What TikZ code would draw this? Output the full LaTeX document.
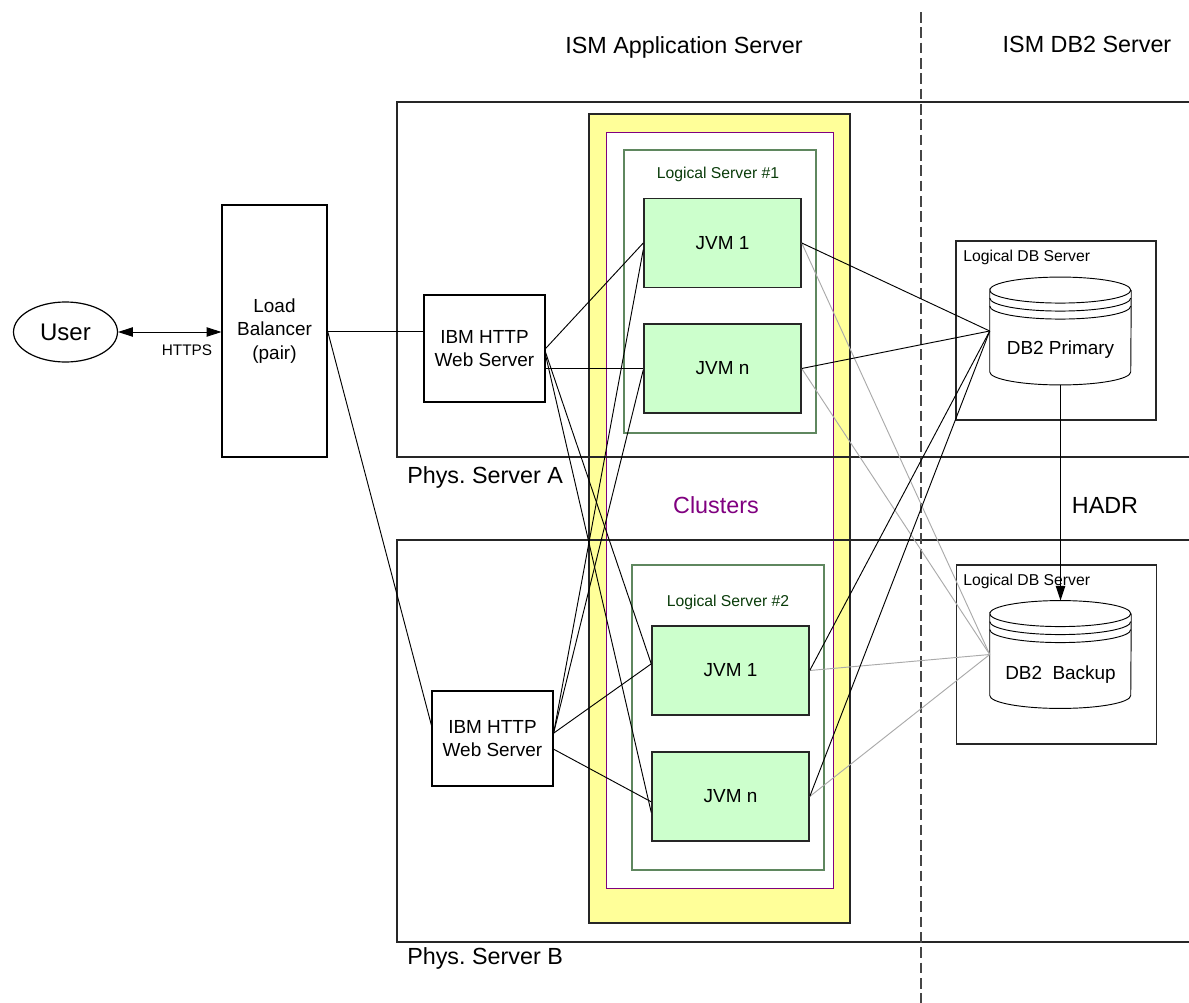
\documentclass[tikz,border=0pt]{standalone}
\usepackage{fontspec}
\setmainfont{Liberation Sans}
\frenchspacing
\usetikzlibrary{arrows.meta,shapes.geometric,calc}
\definecolor{clyellow}{RGB}{255,255,153}
\definecolor{clpurple}{RGB}{128,0,128}
\definecolor{lsborder}{RGB}{95,135,95}
\definecolor{lstext}{RGB}{10,60,10}
\definecolor{jvmfill}{RGB}{204,255,204}
\definecolor{dashgray}{RGB}{70,70,70}
\definecolor{lightline}{RGB}{170,170,170}
\tikzset{
 bigtxt/.style={font=\fontsize{17.5pt}{21pt}\selectfont},
 midtxt/.style={font=\fontsize{14.2pt}{17.5pt}\selectfont},
 smalltxt/.style={font=\fontsize{11.8pt}{14pt}\selectfont},
 plainbox/.style={draw=black, line width=0.9pt, fill=white, rectangle, inner sep=0pt, align=center, midtxt},
 jvmbox/.style={draw=black!85, line width=1.1pt, fill=jvmfill, rectangle, inner sep=0pt, minimum width=117.75pt, minimum height=67pt, midtxt},
 physbox/.style={draw=black!85, line width=1pt},
 lsbox/.style={draw=lsborder, line width=0.9pt},
 dbbox/.style={draw=black!85, line width=1pt, rectangle, inner sep=0pt, minimum width=150pt, minimum height=134.25pt},
 cylnode/.style={rectangle, inner sep=0pt, minimum width=105.75pt, minimum height=80.5pt},
 cylline/.style={draw=black, line width=0.7pt, fill=white},
 conn/.style={draw=black, line width=0.7pt},
 grayconn/.style={draw=lightline, line width=0.7pt},
 tip/.style={-{Triangle[length=11pt,width=7pt]}},
 dbltip/.style={{Triangle[length=11pt,width=7pt]}-{Triangle[length=11pt,width=7pt]}},
 plaintext/.style={inner sep=0pt},
}
\newcommand\dbcyl[1]{%
 \draw[cylline] ([yshift=-9.75pt]#1.north west)
   arc[start angle=180,end angle=0,x radius=52.875pt,y radius=9.75pt]
   arc[start angle=0,end angle=-180,x radius=52.875pt,y radius=9.75pt]
   -- ([yshift=9.75pt]#1.south west)
   arc[start angle=180,end angle=360,x radius=52.875pt,y radius=9.75pt]
   -- ([yshift=-9.75pt]#1.north east);
 \draw[cylline,fill=none] ([yshift=-15.75pt]#1.north west)
   arc[start angle=180,end angle=360,x radius=52.875pt,y radius=9.75pt];
 \draw[cylline,fill=none] ([yshift=-21.75pt]#1.north west)
   arc[start angle=180,end angle=360,x radius=52.875pt,y radius=9.75pt];
}
\begin{document}
\begin{tikzpicture}[x=0.75pt,y=-0.75pt]
\useasboundingbox (0,0) rectangle (1189,1003);
\clip (0,0) rectangle (1189,1003);
\fill[white] (0,0) rectangle (1189,1003);

% cluster band
\draw[fill=clyellow, draw=black!85, line width=1.2pt] (589,114) rectangle (850,923);
\draw[fill=white, draw=clpurple, line width=0.6pt] (606,132) rectangle (833,888);

% physical servers
\draw[physbox] (397,102) rectangle (1200,457);
\draw[physbox] (397,540) rectangle (1200,942);
\node[plaintext, bigtxt, anchor=west] (physA) at (407,477) {Phys. Server A};
\node[plaintext, bigtxt, anchor=west] (physB) at (407,958) {Phys. Server B};

% divider
\draw[dashgray, line width=1.2pt, dash pattern=on 8pt off 3.5pt] (921,12) -- (921,1003);

% headings
\node[plaintext, bigtxt] (hApp) at (684,47) {ISM Application Server};
\node[plaintext, bigtxt] (hDB) at (1087,44) {ISM DB2 Server};
\node[plaintext, bigtxt, text=clpurple] (clusters) at (716,505) {Clusters};

% logical servers
\draw[lsbox] (624,150) rectangle (816,433);
\node[plaintext, smalltxt, text=lstext] (ls1) at (718,174) {Logical Server \#1};
\draw[lsbox] (632,565) rectangle (824,870);
\node[plaintext, smalltxt, text=lstext] (ls2) at (728,602) {Logical Server \#2};

% JVMs
\node[jvmbox] (jA1) at (722.5,243) {JVM 1};
\node[jvmbox] (jAn) at (722.5,368.5) {JVM n};
\node[jvmbox] (jB1) at (730.5,670.5) {JVM 1};
\node[jvmbox] (jBn) at (730.5,796.5) {JVM n};

% left side
\node[ellipse, draw=black, line width=0.9pt, minimum width=78pt, minimum height=45pt, inner sep=0pt,
      font=\fontsize{18pt}{21pt}\selectfont] (user) at (65.5,332) {User};
\node[plainbox, minimum width=78.75pt, minimum height=189pt] (lb) at (274.5,331) {Load\\Balancer\\(pair)};
\node[plainbox, minimum width=90.75pt, minimum height=80.25pt] (wsA) at (484.5,348.5) {IBM HTTP\\Web Server};
\node[plainbox, minimum width=90.75pt, minimum height=71.25pt] (wsB) at (492.5,738.5) {IBM HTTP\\Web Server};
\node[plaintext, font=\fontsize{11.5pt}{14pt}\selectfont] (https) at (187,350) {HTTPS};

% DB side
\node[dbbox] (ldb1) at (1056,330.5) {};
\node[plaintext, smalltxt, anchor=west] (ldb1t) at (963,257) {Logical DB Server};
\node[dbbox] (ldb2) at (1056.5,654.5) {};
\node[plaintext, smalltxt, anchor=west] (ldb2t) at (963,581) {Logical DB Server};
\node[cylnode] (dbp) at (1060.5,331) {};
\node[cylnode] (dbb) at (1060.5,654.5) {};
\dbcyl{dbp}
\dbcyl{dbb}
\node[plaintext, midtxt] (dbpt) at (1060.5,350) {DB2 Primary};
\node[plaintext, midtxt] (dbbt) at (1060.5,675) {DB2\ \ Backup};
\node[plaintext, bigtxt] (hadr) at (1105,505) {HADR};

% connectors
\draw[conn, dbltip] (user.east) -- (user.east -| lb.west);
\draw[conn] (lb.east) -- (lb.east -| wsA.west);
\draw[conn] (lb.east) -- ([yshift=10pt]wsB.west);
\draw[conn] (wsA.east) -- (jA1.west);
\draw[conn] (wsA.east |- jAn.west) -- (jAn.west);
\draw[conn] ([yshift=-3pt]wsA.east) -- ([yshift=5pt]jB1.west);
\draw[conn] ([yshift=-5pt]wsA.east) -- ([yshift=-12pt]jBn.west);
\draw[conn] ([yshift=4pt]wsB.east) -- ([yshift=-5pt]jA1.west);
\draw[conn] ([yshift=4pt]wsB.east) -- ([yshift=-1pt]jAn.west);
\draw[conn] ([yshift=4pt]wsB.east) -- ([yshift=5pt]jB1.west);
\draw[conn] ([yshift=-8pt]wsB.east) -- ([yshift=-4pt]jBn.west);

\foreach \j in {jA1,jAn,jB1,jBn} {
  \draw[grayconn] (\j.east) -- (dbb.west);
}
\foreach \j in {jA1,jAn,jB1,jBn} {
  \draw[conn] (\j.east) -- (dbp.west);
}
\draw[conn, line width=1pt, tip] (dbp.south) -- (dbb.north);
\end{tikzpicture}
\end{document}
